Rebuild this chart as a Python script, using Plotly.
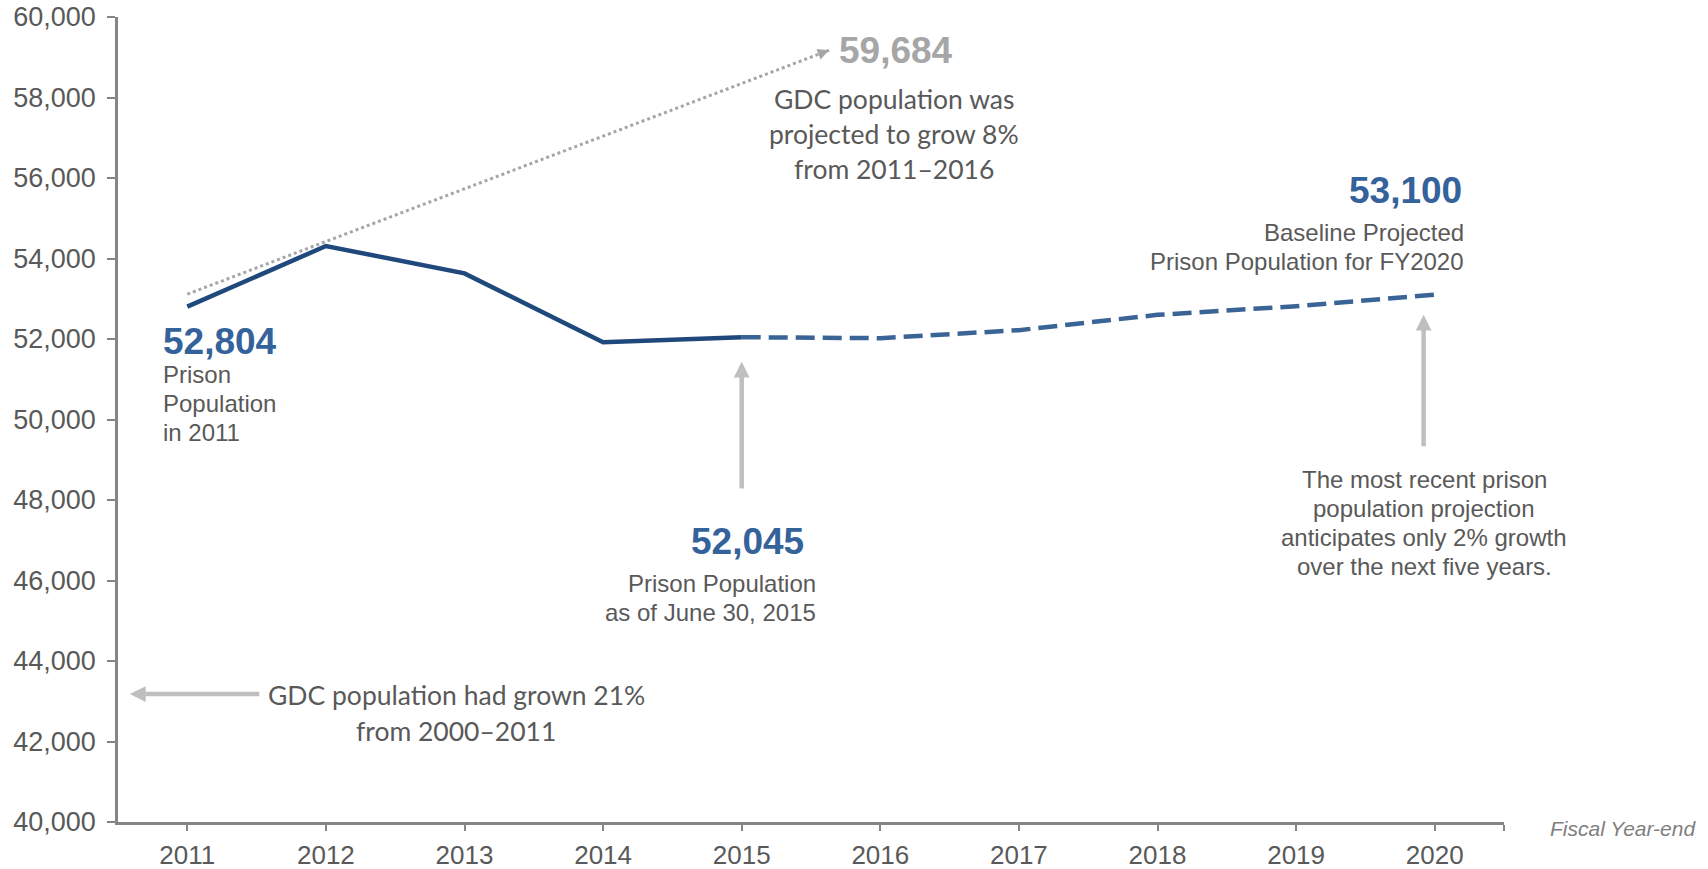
import plotly.graph_objects as go

# Fiscal year-end prison population (actual through 2015, projected after)
years_actual = [2011, 2012, 2013, 2014, 2015]
pop_actual = [52804, 54310, 53630, 51920, 52045]

years_proj = [2015, 2016, 2017, 2018, 2019, 2020]
pop_proj = [52045, 52020, 52220, 52600, 52815, 53100]

# Earlier 2011 projection (growth toward 59,684)
old_proj_years = [2011, 2015.63]
old_proj_values = [53114, 59173]
old_proj_target = 59684

tick_years = list(range(2011, 2021))
tick_labels = [str(y) for y in tick_years]

NAVY = "#1F497D"
NAVY_DASH = "#3A6496"
LABEL_BLUE = "#34629A"
TEXT_GRAY = "#595959"
ARROW_GRAY = "#BFBFBF"
DOT_GRAY = "#A6A6A6"
AXIS_GRAY = "#858585"

SANS = "Liberation Sans, Arial, sans-serif"
HUMANIST = "Lato, Calibri, sans-serif"

# vertical scale used to space stacked text lines (data units per pixel)
Y_PER_PX = 20000 / 805.0

fig = go.Figure()

fig.add_trace(go.Scatter(
    x=old_proj_years, y=old_proj_values, mode="lines",
    line=dict(color=DOT_GRAY, width=3, dash="3px,3px"),
    hoverinfo="skip", showlegend=False,
))
fig.add_trace(go.Scatter(
    x=years_proj, y=pop_proj, mode="lines",
    line=dict(color=NAVY_DASH, width=4.5, dash="19px,8px"),
    showlegend=False,
))
fig.add_trace(go.Scatter(
    x=years_actual, y=pop_actual, mode="lines",
    line=dict(color=NAVY, width=4.5),
    showlegend=False,
))

annotations = []

def label(text, x, y, size, color, font=SANS, xanchor="center", bold=False):
    if bold:
        text = "<b>" + text + "</b>"
    annotations.append(dict(
        x=x, y=y, xref="x", yref="y", text=text, showarrow=False,
        xanchor=xanchor, yanchor="middle",
        font=dict(family=font, size=size, color=color),
    ))

def block(lines, x, y_first, spacing_px, size, color, font=SANS, xanchor="center"):
    for i, line in enumerate(lines):
        label(line, x, y_first - i * spacing_px * Y_PER_PX, size, color,
              font=font, xanchor=xanchor)

def arrow(x, y, ax, ay, color, width, size):
    annotations.append(dict(
        x=x, y=y, ax=ax, ay=ay, xref="x", yref="y", axref="x", ayref="y",
        text="", showarrow=True, arrowhead=2, arrowsize=size,
        arrowwidth=width, arrowcolor=color, standoff=0, startstandoff=0,
    ))

# 2011 starting point
label(f"{pop_actual[0]:,}", 2010.81, 51947, 37, LABEL_BLUE, xanchor="left", bold=True)
block(["Prison", "Population", "in 2011"], 2010.81, 51108, 28.9, 24, TEXT_GRAY,
      xanchor="left")

# 2015 actual
arrow(years_actual[-1], 51435, years_actual[-1], 48247, ARROW_GRAY, 4.5, 0.7)
label(f"{pop_actual[-1]:,}", 2015.04, 46980, 37, LABEL_BLUE, bold=True)
block(["Prison Population", "as of June 30, 2015"], 2015.553, 45937, 29, 24,
      TEXT_GRAY, xanchor="right")

# 2020 baseline projection
label(f"{pop_proj[-1]:,}", 2020.213, 55697, 37, LABEL_BLUE, xanchor="right", bold=True)
block(["Baseline Projected", "Prison Population for FY2020"], 2020.228, 54655, 29,
      24, TEXT_GRAY, xanchor="right")
arrow(2019.92, 52600, 2019.92, 49297, ARROW_GRAY, 4.5, 0.7)
block(["The most recent prison", "population projection",
       "anticipates only 2% growth", "over the next five years."],
      2019.925, 48520, 29, 24, TEXT_GRAY)

# Earlier projection
arrow(old_proj_years[-1], old_proj_values[-1], 2015.549, 59066, DOT_GRAY, 2.5, 0.9)
label(f"{old_proj_target:,}", 2015.69, 59173, 37, DOT_GRAY, xanchor="left", bold=True)
block(["GDC population was", "projected to grow 8%", "from 2011–2016"],
      2016.10, 57956, 35, 26.5, TEXT_GRAY, font=HUMANIST)

# Historical growth note
arrow(2010.586, 43178, 2011.53, 43178, ARROW_GRAY, 4.5, 0.7)
block(["GDC population had grown 21%", "from 2000–2011"], 2012.94, 43150, 35.5, 26.5,
      TEXT_GRAY, font=HUMANIST)

# Axis caption beside the end of the x axis
annotations.append(dict(
    x=1.0317, y=-0.0075, xref="paper", yref="paper",
    text="<i>Fiscal Year-end</i>", showarrow=False,
    xanchor="left", yanchor="middle",
    font=dict(family=SANS, size=21, color="#7F7F7F"),
))

fig.update_layout(
    width=1708, height=869,
    margin=dict(l=118, r=204, t=17, b=47),
    paper_bgcolor="white", plot_bgcolor="white",
    showlegend=False,
    annotations=annotations,
    font=dict(family=SANS, color=TEXT_GRAY),
)

fig.update_xaxes(
    range=[2010.5, 2020.5],
    tickvals=tick_years + [2020.5], ticktext=tick_labels + [""],
    showgrid=False, zeroline=False,
    showline=True, linecolor=AXIS_GRAY, linewidth=2.5,
    ticks="outside", ticklen=6, tickwidth=2, tickcolor=AXIS_GRAY,
    tickfont=dict(family=SANS, size=26, color=TEXT_GRAY),
    ticklabelstandoff=2, automargin=False,
)
fig.update_yaxes(
    range=[40000, 60000], tickvals=list(range(40000, 60001, 2000)),
    tickformat=",d",
    showgrid=False, zeroline=False,
    showline=True, linecolor=AXIS_GRAY, linewidth=2.5,
    ticks="outside", ticklen=8, tickwidth=2, tickcolor=AXIS_GRAY,
    tickfont=dict(family=SANS, size=27, color=TEXT_GRAY),
    ticklabelstandoff=6, automargin=False,
)

fig.write_html("out.html")
